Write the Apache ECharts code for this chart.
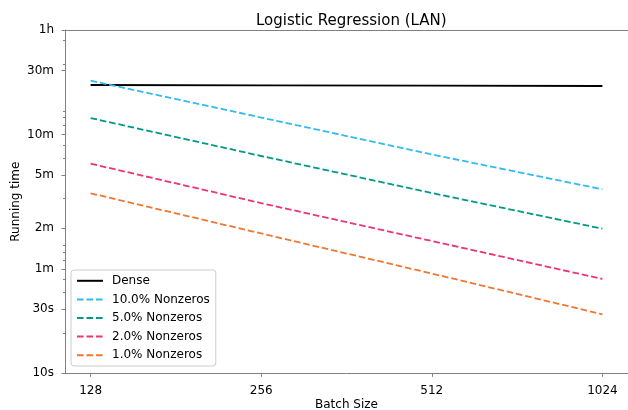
<!DOCTYPE html>
<html>
<head>
<meta charset="utf-8">
<script src="https://cdn.jsdelivr.net/npm/echarts@6/dist/echarts.min.js"></script>
<style>
  html, body { margin: 0; padding: 0; background: #fff; }
  #chart { width: 628px; height: 410px; }
</style>
</head>
<body>
<div id="chart"></div>
<script>
// Batch sizes (x) and running times in seconds (y)
const batchSizes = [128, 256, 512, 1024];
const denseTimes = [1402, 1395, 1386, 1378];
const nz10Times = [1510, 803, 426, 234.5];
const nz5Times = [796, 415, 220, 119.3];
const nz2Times = [364, 185, 96.6, 50.4];
const nz1Times = [219, 110, 55.3, 27.5];

const seriesNames = ['Dense', '10.0% Nonzeros', '5.0% Nonzeros', '2.0% Nonzeros', '1.0% Nonzeros'];

// Axis ticks
const xTickValues = [128, 256, 512, 1024];
const yTickValues = [10, 30, 60, 120, 300, 600, 1800, 3600];
const yTickLabels = ['10s', '30s', '1m', '2m', '5m', '10m', '30m', '1h'];
const yMinorTicks = [20, 40, 50, 70, 80, 90, 200, 400, 500, 700, 800, 900, 2000, 3000];

const FONT = 'DejaVu Sans';
const SPINE = '#808080';
const GRID = { left: 65, right: 0, top: 30, bottom: 36.7, containLabel: false, outerBoundsMode: 'none' };
const X_MIN = 128 * Math.pow(2, -0.15);
const X_MAX = 1024 * Math.pow(2, 0.15);

function pairs(ys) {
  return batchSizes.map((x, i) => [x, ys[i]]);
}

function lineSeries(name, ys, color, dashed) {
  return {
    name: name,
    type: 'line',
    xAxisIndex: 0,
    yAxisIndex: 0,
    data: pairs(ys),
    showSymbol: false,
    symbol: 'none',
    animation: false,
    lineStyle: { color: color, width: 1.8, type: dashed ? [6.6, 2.9] : 'solid', cap: 'butt' },
    itemStyle: { color: color }
  };
}

const chart = echarts.init(document.getElementById('chart'), null, { renderer: 'canvas' });

chart.setOption({
  backgroundColor: '#fff',
  animation: false,
  title: {
    text: 'Logistic Regression (LAN)',
    left: 251,
    top: 9,
    textStyle: { fontFamily: FONT, fontSize: 15, fontWeight: 'normal', color: '#000' }
  },
  // second grid overlays the first and only carries the minor y ticks
  grid: [Object.assign({}, GRID), Object.assign({}, GRID)],
  legend: {
    orient: 'vertical',
    left: 71,
    top: 270,
    data: seriesNames,
    itemWidth: 26,
    itemHeight: 12,
    itemGap: 6.6,
    padding: [4.8, 6, 4.8, 5],
    backgroundColor: 'rgba(255,255,255,0.8)',
    borderColor: '#cccccc',
    borderWidth: 1,
    borderRadius: 3,
    itemStyle: { opacity: 0 },
    textStyle: { fontFamily: FONT, fontSize: 12, color: '#000', lineHeight: 12, padding: [0, 0, 0, 4] }
  },
  xAxis: [{
    type: 'log',
    logBase: 2,
    gridIndex: 0,
    min: X_MIN,
    max: X_MAX,
    name: 'Batch Size',
    nameLocation: 'middle',
    nameGap: 26,
    nameMoveOverlap: false,
    nameTextStyle: { fontFamily: FONT, fontSize: 12, color: '#000' },
    axisLine: { show: true, lineStyle: { color: SPINE, width: 1 } },
    axisTick: { show: true, length: 3.5, lineStyle: { color: SPINE }, customValues: xTickValues },
    axisLabel: {
      fontFamily: FONT, fontSize: 12, color: '#000', margin: 12,
      customValues: xTickValues,
      formatter: function (v) { return String(Math.round(v)); }
    },
    splitLine: { show: false },
    minorTick: { show: false }
  }, {
    type: 'log',
    logBase: 2,
    gridIndex: 0,
    position: 'top',
    min: X_MIN,
    max: X_MAX,
    axisLine: { show: true, lineStyle: { color: SPINE, width: 1 } },
    axisTick: { show: false },
    axisLabel: { show: false },
    splitLine: { show: false }
  }, {
    type: 'log',
    logBase: 2,
    gridIndex: 1,
    min: X_MIN,
    max: X_MAX,
    show: false
  }],
  yAxis: [{
    type: 'log',
    logBase: 10,
    gridIndex: 0,
    min: 10,
    max: 3600,
    name: 'Running time',
    nameLocation: 'middle',
    nameRotate: 90,
    nameGap: 43,
    nameMoveOverlap: false,
    nameTextStyle: { fontFamily: FONT, fontSize: 12, color: '#000' },
    axisLine: { show: true, lineStyle: { color: SPINE, width: 1 } },
    axisTick: { show: true, length: 3.5, lineStyle: { color: SPINE }, customValues: yTickValues },
    axisLabel: {
      fontFamily: FONT, fontSize: 12, color: '#000', margin: 11,
      customValues: yTickValues,
      formatter: function (v) {
        const i = yTickValues.findIndex(t => Math.abs(t - v) / t < 1e-6);
        return i >= 0 ? yTickLabels[i] : '';
      }
    },
    splitLine: { show: false }
  }, {
    type: 'log',
    logBase: 10,
    gridIndex: 1,
    min: 10,
    max: 3600,
    position: 'left',
    axisLine: { show: false },
    axisTick: { show: true, length: 2, lineStyle: { color: SPINE }, customValues: yMinorTicks },
    axisLabel: { show: false },
    splitLine: { show: false }
  }],
  series: [
    lineSeries(seriesNames[0], denseTimes, '#000000', false),
    lineSeries(seriesNames[1], nz10Times, '#33BBEE', true),
    lineSeries(seriesNames[2], nz5Times, '#009988', true),
    lineSeries(seriesNames[3], nz2Times, '#EE3377', true),
    lineSeries(seriesNames[4], nz1Times, '#EE7733', true)
  ]
});
</script>
</body>
</html>
